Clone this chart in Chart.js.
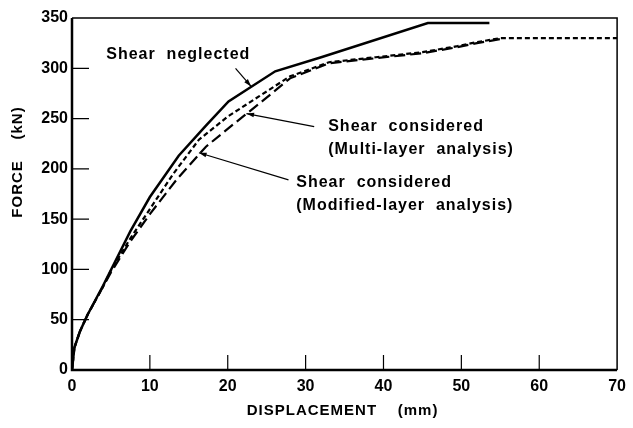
<!DOCTYPE html>
<html>
<head>
<meta charset="utf-8">
<script src="https://cdn.jsdelivr.net/npm/chart.js@4.4.1/dist/chart.umd.min.js"></script>
<style>
  body { margin: 0; background: #fff; }
  canvas { display: block; }
</style>
</head>
<body>
<canvas id="force-chart" width="633" height="428"></canvas>
<script>
// displacement (mm) / force (kN)
const dispNeglected = [0, 0.3, 1, 2, 4, 7.5, 10, 13.7, 17.2, 20.1, 26.1, 32, 45.7, 53.6];
const forceNeglected = [0, 22, 38, 55, 84, 138, 172, 213, 243, 267, 297, 311, 345, 345];

const dispMulti = [0, 0.3, 1, 2, 4, 5, 7.5, 10, 13.5, 17.2, 20.5, 24.4, 28, 33, 39, 45, 49.5, 52, 55];
const forceMulti = [0, 22, 38, 55, 83, 97, 128, 155, 190, 222, 243, 267, 290, 305, 310, 315, 321, 325, 329];

const dispModified = [0, 0.3, 1, 2, 4, 5, 7.5, 10, 13, 16.3, 20, 24, 28, 33, 39, 45, 49.5, 52, 55, 70];
const forceModified = [0, 22, 38, 55, 83, 99, 131, 160, 195, 229, 252, 272, 292, 306, 311, 316, 322, 326, 330, 330];

const xTicks = [0, 10, 20, 30, 40, 50, 60, 70];
const yTicks = [0, 50, 100, 150, 200, 250, 300, 350];

const toPoints = (xs, ys) => xs.map((x, i) => ({x: x, y: ys[i]}));

const FONT = '"Liberation Sans", Arial, sans-serif';

// annotation text + arrows, placed in data units
const notes = [
    {lines: ['Shear  neglected'], x: 4.4, y: 314, from: [21.0, 300], to: [23.0, 282]},
    {lines: ['Shear  considered', '(Multi-layer  analysis)'], x: 32.9, y: 242, from: [31.1, 242], to: [22.4, 255]},
    {lines: ['Shear  considered', '(Modified-layer  analysis)'], x: 28.8, y: 186, from: [27.8, 189], to: [16.3, 216]}
];

const decor = {
    id: 'decor',
    afterDraw(chart) {
        const ctx = chart.ctx;
        const xs = chart.scales.x, ys = chart.scales.y;
        const a = chart.chartArea;
        ctx.save();
        ctx.strokeStyle = '#000';
        ctx.fillStyle = '#000';

        // frame
        ctx.lineWidth = 1.5;
        ctx.beginPath();
        ctx.moveTo(a.left, a.top);
        ctx.lineTo(a.right, a.top);
        ctx.lineTo(a.right, a.bottom);
        ctx.stroke();
        ctx.lineWidth = 2.5;
        ctx.beginPath();
        ctx.moveTo(a.left, a.top);
        ctx.lineTo(a.left, a.bottom);
        ctx.lineTo(a.right, a.bottom);
        ctx.stroke();

        // inward ticks
        ctx.lineWidth = 1.2;
        ctx.beginPath();
        xTicks.slice(1, -1).forEach(v => {
            const px = xs.getPixelForValue(v);
            ctx.moveTo(px, a.bottom);
            ctx.lineTo(px, a.bottom - 15);
        });
        yTicks.slice(1, -1).forEach(v => {
            const py = ys.getPixelForValue(v);
            ctx.moveTo(a.left, py);
            ctx.lineTo(a.left + 17, py);
        });
        ctx.stroke();

        // notes
        ctx.font = 'bold 16px ' + FONT;
        ctx.letterSpacing = '1px';
        ctx.textBaseline = 'middle';
        ctx.textAlign = 'left';
        notes.forEach(n => {
            const tx = xs.getPixelForValue(n.x);
            const ty = ys.getPixelForValue(n.y);
            n.lines.forEach((t, i) => ctx.fillText(t, tx, ty + i * 23));

            const x1 = xs.getPixelForValue(n.from[0]), y1 = ys.getPixelForValue(n.from[1]);
            const x2 = xs.getPixelForValue(n.to[0]), y2 = ys.getPixelForValue(n.to[1]);
            ctx.lineWidth = 1.2;
            ctx.beginPath();
            ctx.moveTo(x1, y1);
            ctx.lineTo(x2, y2);
            ctx.stroke();
            const ang = Math.atan2(y2 - y1, x2 - x1);
            ctx.beginPath();
            ctx.moveTo(x2, y2);
            ctx.lineTo(x2 - 8 * Math.cos(ang - 0.3), y2 - 8 * Math.sin(ang - 0.3));
            ctx.lineTo(x2 - 8 * Math.cos(ang + 0.3), y2 - 8 * Math.sin(ang + 0.3));
            ctx.closePath();
            ctx.fill();
        });

        // axis titles
        ctx.letterSpacing = '1px';
        ctx.font = 'bold 15px ' + FONT;
        ctx.textAlign = 'center';
        ctx.fillText('DISPLACEMENT    (mm)', (a.left + a.right) / 2 - 2, 411);
        ctx.translate(18, 162);
        ctx.rotate(-Math.PI / 2);
        ctx.fillText('FORCE    (kN)', 0, 0);
        ctx.restore();
    }
};

const line = (data, dash, width) => ({
    data: data,
    showLine: true,
    borderColor: '#000',
    backgroundColor: '#000',
    borderWidth: width,
    borderDash: dash,
    pointRadius: 0,
    tension: 0
});

new Chart(document.getElementById('force-chart'), {
    type: 'scatter',
    data: {
        datasets: [
            line(toPoints(dispNeglected, forceNeglected), [], 2.5),
            line(toPoints(dispMulti, forceMulti), [11, 5], 2.2),
            line(toPoints(dispModified, forceModified), [5, 3], 2.2)
        ]
    },
    options: {
        responsive: false,
        animation: false,
        devicePixelRatio: 1,
        layout: {padding: {top: 18, right: 13, left: 0, bottom: 0}},
        plugins: {legend: {display: false}, tooltip: {enabled: false}},
        scales: {
            x: {
                type: 'linear',
                min: 0,
                max: 70,
                afterFit: s => { s.height = 58; },
                afterBuildTicks: s => { s.ticks = xTicks.map(v => ({value: v})); },
                grid: {display: false, drawTicks: false},
                border: {display: false},
                ticks: {color: '#000', padding: 7, maxRotation: 0, font: {family: FONT, size: 16, weight: 'bold'}}
            },
            y: {
                min: 0,
                max: 350,
                afterFit: s => { s.width = 72; },
                afterBuildTicks: s => { s.ticks = yTicks.map(v => ({value: v})); },
                grid: {display: false, drawTicks: false},
                border: {display: false},
                ticks: {color: '#000', padding: 4, font: {family: FONT, size: 16, weight: 'bold'}}
            }
        }
    },
    plugins: [decor]
});
</script>
</body>
</html>
